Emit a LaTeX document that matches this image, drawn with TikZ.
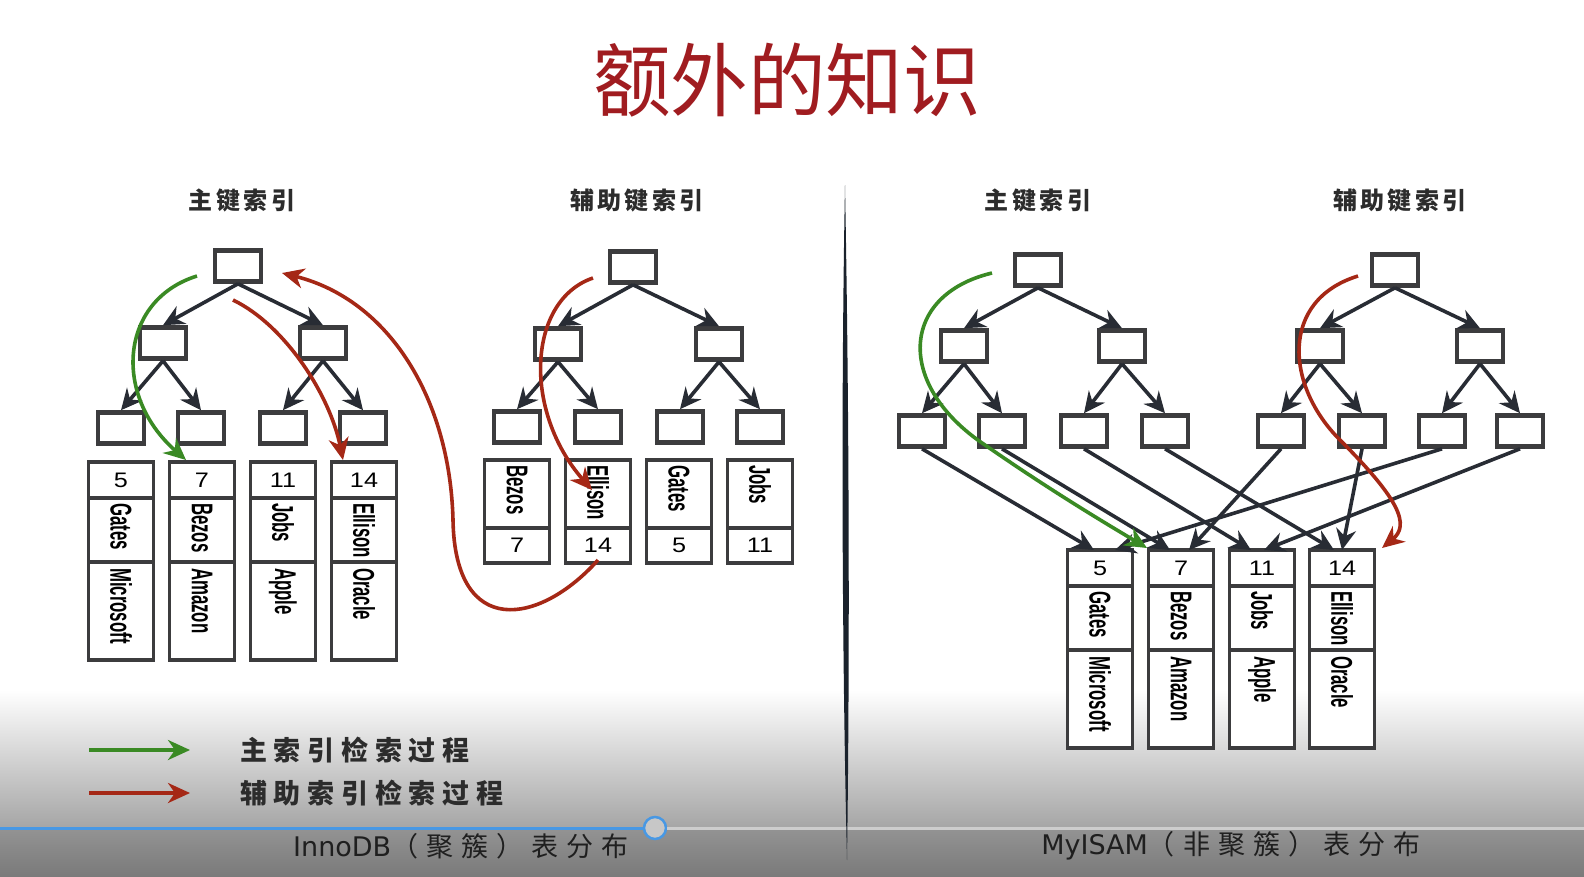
\documentclass[tikz,border=0pt]{standalone}
\usepackage{fontspec}
\setmainfont{Liberation Sans}
\newfontfamily\cjk{Noto Sans CJK SC}
\newfontfamily\capfont{DejaVu Sans}
\usetikzlibrary{arrows.meta,positioning}

\definecolor{titlered}{RGB}{160,28,32}
\definecolor{boxgray}{RGB}{60,60,62}
\definecolor{arrowdark}{RGB}{40,44,52}
\definecolor{pathgreen}{RGB}{58,138,36}
\definecolor{pathred}{RGB}{165,40,22}
\definecolor{labelgray}{RGB}{44,44,44}
\definecolor{barabove}{RGB}{166,166,166}
\definecolor{barbelow}{RGB}{148,148,148}
\definecolor{bottomgray}{RGB}{122,122,122}
\definecolor{barblue}{RGB}{72,152,228}
\definecolor{barrest}{RGB}{205,205,205}
\definecolor{sepcolor}{RGB}{26,34,44}

% rotated record text, top aligned in its cell
\newcommand{\vname}[2]{\rotatebox{-90}{\makebox[#1][l]{\scalebox{0.56}[1]{\bfseries\fontsize{30}{30}\selectfont #2}}}}
\newcommand{\numtxt}[1]{\scalebox{1.2}[1]{\fontsize{21}{21}\selectfont #1}}

\begin{document}
\begin{tikzpicture}[x=1pt,y=-1pt,
    keybox/.style = {draw=boxgray, line width=4.6pt, fill=white,
                     minimum width=46pt, minimum height=31pt, inner sep=0pt},
    treearrow/.style = {draw=arrowdark, line width=3.6pt,
                     -{Stealth[length=21pt,width=20pt,inset=7pt]}},
    reccell/.style = {draw=boxgray, line width=3.4pt, fill=white,
                     minimum width=65pt, inner sep=0pt, outer sep=0pt},
    numcell/.style = {reccell, minimum height=36pt},
    keycell/.style = {reccell, minimum height=64pt},
    compcell/.style = {reccell, minimum height=98pt},
    skeycell/.style = {reccell, minimum height=68pt},
    snumcell/.style = {reccell, minimum height=35pt},
    greenpath/.style = {draw=pathgreen, line width=3.6pt,
                     -{Stealth[length=22pt,width=20pt,inset=7pt]}},
    redpath/.style = {draw=pathred, line width=3.6pt,
                     -{Stealth[length=22pt,width=20pt,inset=7pt]}},
    headlabel/.style = {text=labelgray, inner sep=0pt,
                     font=\cjk\bfseries\fontsize{24}{24}\selectfont\addfontfeatures{LetterSpace=14}},
    legendtext/.style = {text=labelgray, inner sep=0pt, anchor=west,
                     font=\cjk\bfseries\fontsize{27}{27}\selectfont\addfontfeatures{LetterSpace=25}},
    captiontext/.style = {text=black!88, inner sep=0pt,
                     font=\cjk\fontsize{27}{27}\selectfont}
  ]
  \useasboundingbox (0,0) rectangle (1584,876);
  \fill[white] (0,0) rectangle (1584,876);
  \shade[top color=white, bottom color=barabove] (0,690) rectangle (1584,827);
  \shade[top color=barbelow, bottom color=bottomgray] (0,827) rectangle (1584,876);

  % progress bar of the player
  \node[circle, draw=barblue, line width=2.5pt, fill=black!22, minimum size=22pt, inner sep=0pt] (knob) at (655,828) {};
  \draw[barblue, line width=3pt] (0,828) -- (knob.west);
  \draw[barrest, line width=3pt] (knob.east) -- (1584,828);

  % title and divider
  \node[text=titlered, inner sep=0pt] (title) at (787,80)
    {\scalebox{0.97}[1]{\cjk\fontsize{80}{80}\selectfont 额外的知识}};
  \fill[sepcolor] (845,185) .. controls (849,400) and (850,650) .. (847,860)
                  .. controls (842,650) and (841,400) .. (845,185);

  \node[headlabel] (ph) at (242,200) {主键索引};
  \node[headlabel] (sh) at (637,200) {辅助键索引};
  \node[headlabel] (mh) at (1038,200) {主键索引};
  \node[headlabel] (nh) at (1400,200) {辅助键索引};

  % InnoDB primary tree
  \node[keybox] (pr) at (238,266) {};
  \node[keybox] (pa) at (163,343) {};
  \node[keybox] (pb) at (323,343) {};
  \node[keybox] (pl1) at (121,428) {};
  \node[keybox] (pl2) at (201,428) {};
  \node[keybox] (pl3) at (283,428) {};
  \node[keybox] (pl4) at (363,428) {};
  \draw[treearrow] (pr.south) -- (pa.north);
  \draw[treearrow] (pr.south) -- (pb.north);
  \draw[treearrow] (pa.south) -- (pl1.north);
  \draw[treearrow] (pa.south) -- (pl2.north);
  \draw[treearrow] (pb.south) -- (pl3.north);
  \draw[treearrow] (pb.south) -- (pl4.north);

  \node[numcell] (p1n) at (121,480) {\numtxt{5}};
  \node[keycell, below=0pt of p1n] (p1k) {\vname{54pt}{Gates}};
  \node[compcell, below=0pt of p1k] (p1c) {\vname{86pt}{Microsoft}};
  \node[numcell] (p2n) at (202,480) {\numtxt{7}};
  \node[keycell, below=0pt of p2n] (p2k) {\vname{54pt}{Bezos}};
  \node[compcell, below=0pt of p2k] (p2c) {\vname{86pt}{Amazon}};
  \node[numcell] (p3n) at (283,480) {\numtxt{11}};
  \node[keycell, below=0pt of p3n] (p3k) {\vname{54pt}{Jobs}};
  \node[compcell, below=0pt of p3k] (p3c) {\vname{86pt}{Apple}};
  \node[numcell] (p4n) at (364,480) {\numtxt{14}};
  \node[keycell, below=0pt of p4n] (p4k) {\vname{54pt}{Ellison}};
  \node[compcell, below=0pt of p4k] (p4c) {\vname{86pt}{Oracle}};

  % InnoDB secondary tree
  \node[keybox] (sr) at (633,267) {};
  \node[keybox] (sa) at (558,344) {};
  \node[keybox] (sb) at (719,344) {};
  \node[keybox] (sl1) at (517,427) {};
  \node[keybox] (sl2) at (598,427) {};
  \node[keybox] (sl3) at (680,427) {};
  \node[keybox] (sl4) at (760,427) {};
  \draw[treearrow] (sr.south) -- (sa.north);
  \draw[treearrow] (sr.south) -- (sb.north);
  \draw[treearrow] (sa.south) -- (sl1.north);
  \draw[treearrow] (sa.south) -- (sl2.north);
  \draw[treearrow] (sb.south) -- (sl3.north);
  \draw[treearrow] (sb.south) -- (sl4.north);

  \node[skeycell] (s1k) at (517,494) {\vname{58pt}{Bezos}};
  \node[snumcell, below=0pt of s1k] (s1n) {\numtxt{7}};
  \node[skeycell] (s2k) at (598,494) {\vname{58pt}{Ellison}};
  \node[snumcell, below=0pt of s2k] (s2n) {\numtxt{14}};
  \node[skeycell] (s3k) at (679,494) {\vname{58pt}{Gates}};
  \node[snumcell, below=0pt of s3k] (s3n) {\numtxt{5}};
  \node[skeycell] (s4k) at (760,494) {\vname{58pt}{Jobs}};
  \node[snumcell, below=0pt of s4k] (s4n) {\numtxt{11}};

  % MyISAM primary and secondary trees
  \node[keybox] (mr) at (1038,270) {};
  \node[keybox] (ma) at (964,346) {};
  \node[keybox] (mb) at (1122,346) {};
  \node[keybox] (ml1) at (922,431) {};
  \node[keybox] (ml2) at (1002,431) {};
  \node[keybox] (ml3) at (1084,431) {};
  \node[keybox] (ml4) at (1165,431) {};
  \node[keybox] (nr) at (1395,270) {};
  \node[keybox] (na) at (1320,346) {};
  \node[keybox] (nb) at (1480,346) {};
  \node[keybox] (nl1) at (1281,431) {};
  \node[keybox] (nl2) at (1362,431) {};
  \node[keybox] (nl3) at (1442,431) {};
  \node[keybox] (nl4) at (1520,431) {};
  \draw[treearrow] (mr.south) -- (ma.north);
  \draw[treearrow] (mr.south) -- (mb.north);
  \draw[treearrow] (ma.south) -- (ml1.north);
  \draw[treearrow] (ma.south) -- (ml2.north);
  \draw[treearrow] (mb.south) -- (ml3.north);
  \draw[treearrow] (mb.south) -- (ml4.north);
  \draw[treearrow] (nr.south) -- (na.north);
  \draw[treearrow] (nr.south) -- (nb.north);
  \draw[treearrow] (na.south) -- (nl1.north);
  \draw[treearrow] (na.south) -- (nl2.north);
  \draw[treearrow] (nb.south) -- (nl3.north);
  \draw[treearrow] (nb.south) -- (nl4.north);

  \node[numcell] (m1n) at (1100,568) {\numtxt{5}};
  \node[keycell, below=0pt of m1n] (m1k) {\vname{54pt}{Gates}};
  \node[compcell, below=0pt of m1k] (m1c) {\vname{86pt}{Microsoft}};
  \node[numcell] (m2n) at (1181,568) {\numtxt{7}};
  \node[keycell, below=0pt of m2n] (m2k) {\vname{54pt}{Bezos}};
  \node[compcell, below=0pt of m2k] (m2c) {\vname{86pt}{Amazon}};
  \node[numcell] (m3n) at (1262,568) {\numtxt{11}};
  \node[keycell, below=0pt of m3n] (m3k) {\vname{54pt}{Jobs}};
  \node[compcell, below=0pt of m3k] (m3c) {\vname{86pt}{Apple}};
  \node[numcell] (m4n) at (1342,568) {\numtxt{14}};
  \node[keycell, below=0pt of m4n] (m4k) {\vname{54pt}{Ellison}};
  \node[compcell, below=0pt of m4k] (m4c) {\vname{86pt}{Oracle}};

  % leaves point to the rows
  \draw[treearrow] (ml1.south) -- ([xshift=-6pt]m1n.north);
  \draw[treearrow] (ml2.south) -- ([xshift=-11pt]m2n.north);
  \draw[treearrow] (ml3.south) -- ([xshift=-11pt]m3n.north);
  \draw[treearrow] (ml4.south) -- ([xshift=-8pt]m4n.north);
  \draw[treearrow] (nl1.south) -- ([xshift=8pt]m2n.north);
  \draw[treearrow] (nl2.south) -- (m4n.north);
  \draw[treearrow] (nl3.south) -- ([xshift=15pt]m1n.north);
  \draw[treearrow] (nl4.south) -- ([xshift=2pt]m3n.north);

  % search paths
  \coordinate (g1s) at (197,276);
  \coordinate (g1e) at (186,460);
  \coordinate (r1s) at (233,300);
  \coordinate (r1e) at (343,460);
  \coordinate (r2e) at (282,273);
  \coordinate (r3s) at (593,278);
  \coordinate (r3e) at (592,490);
  \coordinate (g2s) at (992,273);
  \coordinate (g2e) at (1147,548);
  \coordinate (r4s) at (1358,276);
  \coordinate (r4e) at (1382,548);
  \draw[greenpath] (g1s) .. controls (120,300) and (112,395) .. (g1e);
  \draw[redpath] (r1s) .. controls (285,325) and (330,395) .. (r1e);
  \draw[redpath] ([yshift=3pt]s2n.south) .. controls (540,625) and (455,640) .. (453,520)
                 .. controls (450,400) and (390,300) .. (r2e);
  \draw[redpath] (r3s) .. controls (528,300) and (522,410) .. (r3e);
  \draw[greenpath] (g2s) .. controls (900,295) and (895,385) .. (985,445)
                   .. controls (1050,490) and (1100,520) .. (g2e);
  \draw[redpath] (r4s) .. controls (1280,300) and (1285,385) .. (1340,440)
                 .. controls (1400,500) and (1410,525) .. (r4e);

  % legend
  \coordinate (lg0) at (89,750);
  \coordinate (lg1) at (190,750);
  \coordinate (lr0) at (89,793);
  \coordinate (lr1) at (190,793);
  \draw[greenpath] (lg0) -- (lg1);
  \draw[redpath] (lr0) -- (lr1);
  \node[legendtext] (lgt) at (240,750) {主索引检索过程};
  \node[legendtext] (lrt) at (240,793) {辅助索引检索过程};

  \node[captiontext] (ic) at (461,846)
    {{\capfont InnoDB}\addfontfeatures{LetterSpace=30}（聚簇）表分布};
  \node[captiontext] (mc) at (1231,846)
    {{\capfont MyISAM}\addfontfeatures{LetterSpace=30}（非聚簇）表分布};
\end{tikzpicture}
\end{document}
